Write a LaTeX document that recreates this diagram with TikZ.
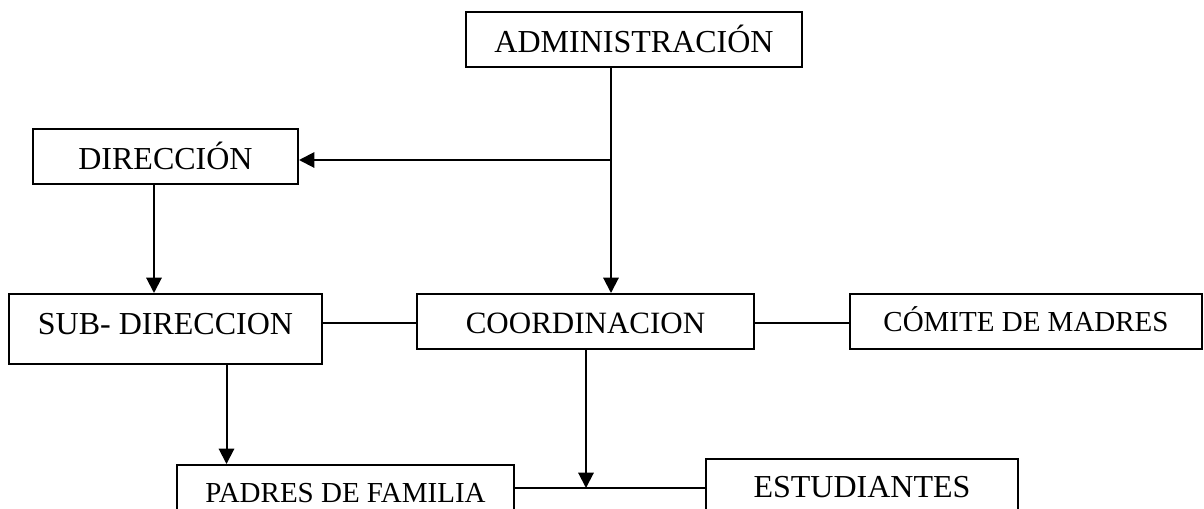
\documentclass[tikz,border=0pt]{standalone}
\usepackage{fontspec}
\setmainfont{Liberation Serif}
\usetikzlibrary{arrows.meta}
\tikzset{
  orgbox/.style={draw, line width=1.5pt, inner sep=0pt, align=center},
  fbig/.style={font=\fontsize{24}{28}\selectfont},
  fmid/.style={font=\fontsize{23.25}{28}\selectfont},
  fsmall/.style={font=\fontsize{21.75}{26}\selectfont},
  ln/.style={line width=1.5pt},
  arr/.style={line width=1.5pt, -{Triangle[length=11.5pt,width=11.5pt]}}
}
\begin{document}
\begin{tikzpicture}[x=0.75pt, y=-0.75pt]
\useasboundingbox (0,0) rectangle (1204,508);
\clip (0,0) rectangle (1204,508);
\node[orgbox, fbig, minimum width=252pt, minimum height=41.25pt, text height=20.2pt, text depth=0pt] (admin) at (634,39.5) {ADMINISTRACIÓN};
\node[orgbox, fbig, minimum width=198.75pt, minimum height=41.25pt, text height=18.3pt, text depth=0pt] (dir) at (165.5,156.8) {DIRECCIÓN};
\node[orgbox, fbig, minimum width=234.75pt, minimum height=52.5pt, text height=15.7pt, text depth=7.2pt] (sub) at (165.5,329) {SUB- DIRECCION};
\node[orgbox, fmid, minimum width=252.75pt, minimum height=41.25pt, text height=17.9pt, text depth=0pt] (coord) at (585.5,321.5) {COORDINACION};
\node[orgbox, fsmall, minimum width=264pt, minimum height=41.25pt, text height=15pt, text depth=0pt] (comite) at (1026,321.5) {CÓMITE DE MADRES};
\node[orgbox, fsmall, minimum width=252.75pt, minimum height=42pt, text height=14.2pt, text depth=0pt] (padres) at (345.5,493) {PADRES DE FAMILIA};
\node[orgbox, fbig, minimum width=234pt, minimum height=42.75pt, text height=15.7pt, text depth=0pt] (est) at (862,487.5) {ESTUDIANTES};
\coordinate (ja) at (611,160);
\draw[arr] (admin.south -| ja) -- (coord.north -| ja);
\draw[arr] (ja) -- (dir.east |- ja);
\coordinate (jd) at (154,0);
\draw[arr] (dir.south -| jd) -- (sub.north -| jd);
\coordinate (jm) at (0,323);
\draw[ln] (sub.east |- jm) -- (coord.west |- jm);
\draw[ln] (coord.east |- jm) -- (comite.west |- jm);
\coordinate (js) at (226.5,0);
\draw[arr] (sub.south -| js) -- (padres.north -| js);
\coordinate (jb) at (586,488);
\draw[ln] (padres.east |- jb) -- (est.west |- jb);
\draw[arr] (coord.south -| jb) -- (jb);
\end{tikzpicture}
\end{document}
